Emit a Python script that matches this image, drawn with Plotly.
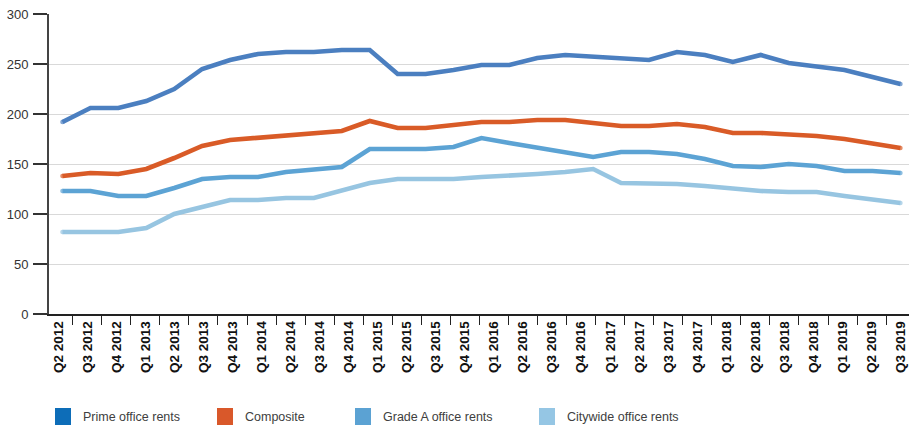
import plotly.graph_objects as go

# Quarterly rent indices, Q1 2012 - Q3 2019
quarters = [f"Q{q} {y}" for y in range(2012, 2020) for q in range(1, 5)][:31]
# Axis labels printed under the chart
axis_labels = quarters[1:]

prime = [192, 206, 206, 213, 225, 245, 254, 260, 262, 262, 264, 264, 240, 240, 244, 249,
         249, 256, 259, 257, 256, 254, 262, 259, 252, 259, 251, 247, 244, 237, 230]
composite = [138, 141, 140, 145, 156, 168, 174, 176, 179, 181, 183, 193, 186, 186, 189, 192,
             192, 194, 194, 191, 188, 188, 190, 187, 181, 181, 180, 178, 175, 170, 166]
grade_a = [123, 123, 118, 118, 126, 135, 137, 137, 142, 145, 147, 165, 165, 165, 167, 176,
           171, 166, 161, 157, 162, 162, 160, 155, 148, 147, 150, 148, 143, 143, 141]
citywide = [82, 82, 82, 86, 100, 107, 114, 114, 116, 116, 123, 131, 135, 135, 135, 137,
            138, 140, 142, 145, 131, 131, 130, 128, 125, 123, 122, 122, 118, 114, 111]

series_names = ["Prime office rents", "Composite", "Grade A office rents", "Citywide office rents"]
series_values = [prime, composite, grade_a, citywide]
line_colors = ["#4b7fc0", "#d95b27", "#5ca3d4", "#97c5e1"]
legend_colors = ["#0d6db8", "#d9582a", "#5ba2d3", "#95c6e4"]

y_ticks = [0, 50, 100, 150, 200, 250, 300]

W, H = 909, 426
ML, MR, MT, MB = 49, 0, 14, 112
PW, PH = W - ML - MR, H - MT - MB

fig = go.Figure()

# invisible trace that carries the category labels of the bottom axis
fig.add_trace(go.Scatter(x=axis_labels, y=[None] * len(axis_labels), mode="lines",
                         xaxis="x", yaxis="y", showlegend=False, hoverinfo="skip"))

for name, vals, col in zip(series_names, series_values, line_colors):
    n = len(vals)
    fig.add_trace(go.Scatter(
        x=quarters, y=vals, name=name, xaxis="x2", yaxis="y",
        mode="lines+markers",
        line=dict(color=col, width=4.6),
        marker=dict(color=col, size=[4.6] + [0] * (n - 2) + [4.6], line=dict(width=0)),
        showlegend=False,
    ))

tick_font = dict(family="Liberation Sans, Arial, sans-serif", size=13.5, color="#111111", weight="bold")

fig.update_layout(
    width=W, height=H,
    margin=dict(l=ML, r=MR, t=MT, b=MB, pad=0),
    paper_bgcolor="white", plot_bgcolor="white",
    showlegend=False,
    xaxis=dict(
        type="category", categoryorder="array", categoryarray=axis_labels,
        range=[-0.3167, 29.287], tickson="boundaries",
        ticks="outside", ticklen=9, tickwidth=1.3, tickcolor="#222222",
        showline=True, linecolor="#222222", linewidth=1.5,
        showgrid=False, zeroline=False, tickangle=-90, tickfont=tick_font,
        fixedrange=True,
    ),
    xaxis2=dict(
        type="category", categoryorder="array", categoryarray=quarters,
        range=[-0.4833, 30.308], overlaying="x", visible=False,
        showgrid=False, zeroline=False,
    ),
    yaxis=dict(
        range=[0, 300], tickvals=y_ticks,
        ticks="outside", ticklen=14, tickwidth=1.6, tickcolor="#333333",
        showline=True, linecolor="#444444", linewidth=2,
        showgrid=True, gridcolor="#d9d9d9", gridwidth=1.3, zeroline=False,
        tickfont=dict(family="Liberation Sans, Arial, sans-serif", size=13, color="#333333"),
        ticklabelstandoff=2,
    ),
)

# legend row drawn beneath the axis labels
def px_x(px):
    return (px - ML) / PW

def px_y(py):
    return (H - MB - py) / PH

legend_square_x = [55, 217, 355, 539]
legend_text_x = [81, 243, 381, 565]
sq_top, sq_bot = 408, 425
for name, col, sx, tx in zip(series_names, legend_colors, legend_square_x, legend_text_x):
    fig.add_shape(type="rect", xref="paper", yref="paper",
                  x0=px_x(sx), x1=px_x(sx + 16), y0=px_y(sq_bot), y1=px_y(sq_top),
                  fillcolor=col, line=dict(width=0))
    fig.add_annotation(xref="paper", yref="paper", x=px_x(tx), y=px_y((sq_top + sq_bot) / 2),
                       text=name, showarrow=False, xanchor="left", yanchor="middle",
                       font=dict(family="Liberation Sans, Arial, sans-serif", size=12.5, color="#404040"))

fig.write_html("out.html")
